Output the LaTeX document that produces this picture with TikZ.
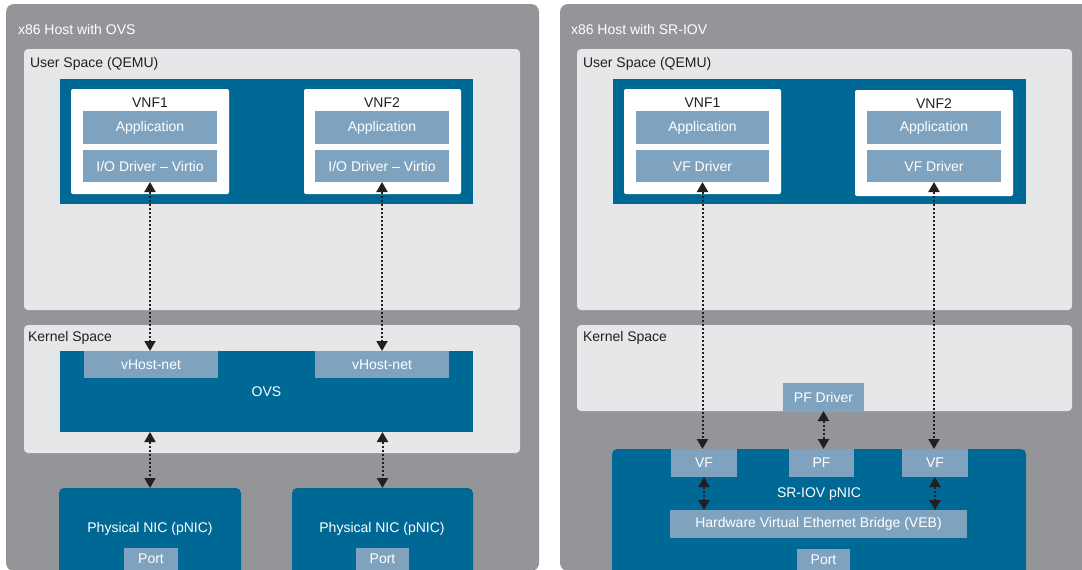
\documentclass[tikz,border=0pt]{standalone}
\usepackage{fontspec}
\setmainfont{Liberation Sans}
\usetikzlibrary{arrows.meta,positioning}
\definecolor{hostgray}{RGB}{148,149,153}
\definecolor{spacegray}{RGB}{230,231,233}
\definecolor{nicblue}{RGB}{0,104,148}
\definecolor{paleblue}{RGB}{127,163,191}
\definecolor{inkdark}{RGB}{35,31,32}

\begin{document}
\begin{tikzpicture}[x=1pt,y=-1pt,
  every node/.style={font=\fontsize{14}{16}\selectfont, inner sep=0pt, outer sep=0pt},
  hostpanel/.style={fill=hostgray, rounded corners=8pt, anchor=north west},
  spacearea/.style={fill=spacegray, rounded corners=4pt, anchor=north west},
  vmrow/.style={fill=nicblue, anchor=north west},
  nicbox/.style={fill=nicblue, rounded corners=5pt, anchor=north west},
  vnfbox/.style={fill=white, rounded corners=2pt, anchor=north west},
  partbox/.style={fill=paleblue, text=white, anchor=north west},
  hostlabel/.style={text=white, anchor=west},
  spacelabel/.style={text=inkdark, anchor=west},
  niclabel/.style={text=white},
  link/.style={{Triangle[width=11pt,length=10pt]}-{Triangle[width=11pt,length=10pt]},
    line width=2pt, dash pattern=on 2pt off 2pt, draw=inkdark}
]
  \useasboundingbox (0,0) rectangle (1082,570);

  % left host: OVS
  \node[hostpanel, minimum width=533, minimum height=567] (hostL) at (6,4) {};
  \node[hostlabel] (hostLlbl) at (18,29) {x86 Host with OVS};
  \node[spacearea, minimum width=496, minimum height=261] (userL) at (24,49) {};
  \node[spacelabel] (userLlbl) at (30,63.5) {User Space (QEMU)};
  \node[spacearea, minimum width=496, minimum height=128] (kernL) at (24,325) {};
  \node[spacelabel] (kernLlbl) at (28,337.5) {Kernel Space};
  \node[vmrow, minimum width=413, minimum height=125] (vmL) at (60,79) {};
  \node[vnfbox, minimum width=158, minimum height=105] (vnfLa) at (71,89) {};
  \node[text=inkdark] (vnfLalbl) at (150,102.5) {VNF1};
  \node[partbox, minimum width=134, minimum height=33] (appLa) at (83,111) {Application};
  \node[partbox, minimum width=134, minimum height=32] (drvLa) at (83,150) {I/O Driver – Virtio};
  \node[vnfbox, minimum width=157, minimum height=105] (vnfLb) at (304,89) {};
  \node[text=inkdark] (vnfLblbl) at (382,102.5) {VNF2};
  \node[partbox, minimum width=134, minimum height=33] (appLb) at (315,111) {Application};
  \node[partbox, minimum width=134, minimum height=32] (drvLb) at (315,150) {I/O Driver – Virtio};
  \node[vmrow, minimum width=413, minimum height=81, text=white] (ovs) at (60,351) {OVS};
  \node[partbox, minimum width=134, minimum height=27] (vhostLa) at (84,351) {vHost-net};
  \node[partbox, minimum width=134, minimum height=27] (vhostLb) at (315,351) {vHost-net};
  \node[nicbox, minimum width=182, minimum height=100] (nicLa) at (59,488) {};
  \node[niclabel] (nicLalbl) at (150,529) {Physical NIC (pNIC)};
  \node[partbox, minimum width=54, minimum height=22] (portLa) at (124,548) {Port};
  \node[nicbox, minimum width=181, minimum height=100] (nicLb) at (292,488) {};
  \node[niclabel] (nicLblbl) at (382,529) {Physical NIC (pNIC)};
  \node[partbox, minimum width=53, minimum height=22] (portLb) at (356,548) {Port};

  \draw[link] (drvLa.south) -- (drvLa.south |- vhostLa.north);
  \draw[link] (drvLb.south) -- (drvLb.south |- vhostLb.north);
  \draw[link] (nicLa.north |- ovs.south) -- (nicLa.north);
  \draw[link] (nicLb.north |- ovs.south) -- (nicLb.north);

  % right host: SR-IOV
  \node[hostpanel, minimum width=530, minimum height=567] (hostR) at (560,4) {};
  \node[hostlabel] (hostRlbl) at (571,29) {x86 Host with SR-IOV};
  \node[spacearea, minimum width=495, minimum height=261] (userR) at (577,49) {};
  \node[spacelabel] (userRlbl) at (583,63.5) {User Space (QEMU)};
  \node[spacearea, minimum width=495, minimum height=86] (kernR) at (577,325) {};
  \node[spacelabel] (kernRlbl) at (583,337.5) {Kernel Space};
  \node[vmrow, minimum width=413, minimum height=125] (vmR) at (613,79) {};
  \node[vnfbox, minimum width=157, minimum height=105] (vnfRa) at (624,89) {};
  \node[text=inkdark] (vnfRalbl) at (702.5,102.5) {VNF1};
  \node[partbox, minimum width=133, minimum height=33] (appRa) at (636,111) {Application};
  \node[partbox, minimum width=133, minimum height=32] (drvRa) at (636,150) {VF Driver};
  \node[vnfbox, minimum width=158, minimum height=106] (vnfRb) at (855,90) {};
  \node[text=inkdark] (vnfRblbl) at (934,103.5) {VNF2};
  \node[partbox, minimum width=134, minimum height=33] (appRb) at (867,111) {Application};
  \node[partbox, minimum width=134, minimum height=32] (drvRb) at (867,150) {VF Driver};
  \node[partbox, minimum width=81, minimum height=28] (pfdrv) at (783,383) {PF Driver};
  \node[nicbox, minimum width=414, minimum height=140] (sriov) at (612,449) {};
  \node[niclabel] (sriovlbl) at (819,494) {SR-IOV pNIC};
  \node[partbox, minimum width=66, minimum height=28] (vfa) at (671,449) {VF};
  \node[partbox, minimum width=65, minimum height=28] (pf) at (789,449) {PF};
  \node[partbox, minimum width=66, minimum height=28] (vfb) at (902,449) {VF};
  \node[partbox, minimum width=297, minimum height=28] (veb) at (670,510) {Hardware Virtual Ethernet Bridge (VEB)};
  \node[partbox, minimum width=53, minimum height=21] (portR) at (797,549) {Port};

  \draw[link] (drvRa.south) -- (drvRa.south |- vfa.north);
  \draw[link] (drvRb.south) -- (drvRb.south |- vfb.north);
  \draw[link] (pfdrv.south) -- (pfdrv.south |- pf.north);
  \draw[link] (vfa.south) -- (vfa.south |- veb.north);
  \draw[link] (vfb.south) -- (vfb.south |- veb.north);
\end{tikzpicture}
\end{document}
